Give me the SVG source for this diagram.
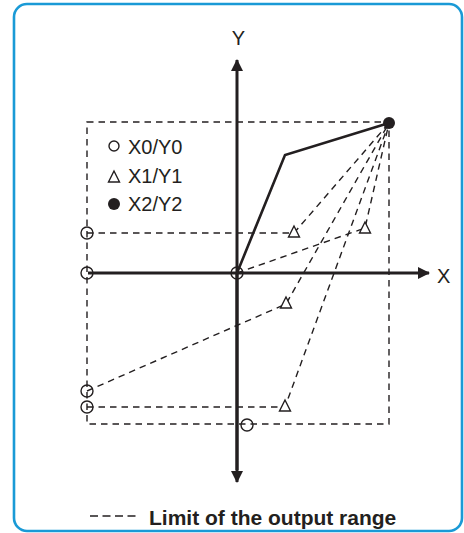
<svg xmlns="http://www.w3.org/2000/svg" width="464" height="533" viewBox="0 0 464 533">
<style>
.frame{fill:#fff;stroke:#1a9ad6;stroke-width:2.6}
.axis{stroke:#231f20;stroke-width:3;fill:none}
.curve{stroke:#231f20;stroke-width:2.6;fill:none;stroke-linejoin:miter}
.dash{stroke:#231f20;stroke-width:1.4;fill:none;stroke-dasharray:6.5,5}
.ldash{stroke:#231f20;stroke-width:1.4;fill:none;stroke-dasharray:8,4.5}
.c0{fill:none;stroke:#231f20;stroke-width:1.4}
.tri{fill:#fff;stroke:#231f20;stroke-width:1.4;stroke-linejoin:miter}
.lbl{font-family:"Liberation Sans",Arial,sans-serif;font-size:20px;fill:#231f20}
.bold{font-family:"Liberation Sans",Arial,sans-serif;font-size:21px;font-weight:bold;fill:#231f20}
</style>
<defs>
<marker id="arr" markerWidth="12" markerHeight="12" refX="11" refY="6" orient="auto" markerUnits="userSpaceOnUse">
<path d="M0,0 L12,6 L0,12 Z" fill="#231f20"/>
</marker>
<path id="tr" d="M0,-6 L5.5,5 L-5.5,5 Z"/>
</defs>
<rect class="frame" x="14" y="4" width="448" height="527" rx="13"/>
<g id="connectors">
<rect class="dash" x="87" y="122" width="302" height="302"/>
<path class="dash" d="M87,233 L294,233 L389,123"/>
<path class="dash" d="M237,273 L365,228 L389,123"/>
<path class="dash" d="M87,391 L286,304 L389,123"/>
<path class="dash" d="M87,407 L285,407 L389,123"/>
</g>
<g id="axes">
<line class="axis" x1="237" y1="470" x2="237" y2="60" marker-end="url(#arr)"/>
<line class="axis" x1="237" y1="273" x2="237" y2="482" marker-end="url(#arr)"/>
<line class="axis" x1="88" y1="273" x2="429" y2="273" marker-end="url(#arr)"/>
<text class="lbl" x="238.5" y="45" text-anchor="middle">Y</text>
<text class="lbl" x="437" y="283">X</text>
</g>
<g id="curve">
<polyline class="curve" points="237,273 285,155 389,123"/>
<circle cx="389" cy="123" r="6" fill="#231f20"/>
</g>
<g id="x0y0-points">
<circle class="c0" cx="87" cy="233" r="6"/>
<circle class="c0" cx="87" cy="273" r="6"/>
<circle class="c0" cx="237" cy="273" r="6"/>
<circle class="c0" cx="87" cy="391" r="6"/>
<circle class="c0" cx="87" cy="407" r="6"/>
<circle class="c0" cx="247" cy="425" r="6" fill="#fff"/>
</g>
<g id="x1y1-points">
<use href="#tr" class="tri" x="294" y="232"/>
<use href="#tr" class="tri" x="365" y="228"/>
<use href="#tr" class="tri" x="286" y="303"/>
<use href="#tr" class="tri" x="285" y="406"/>
</g>
<g id="legend">
<circle class="c0" cx="114" cy="146" r="5"/>
<text class="lbl" x="128" y="154">X0/Y0</text>
<use href="#tr" class="tri" x="114" y="177"/>
<text class="lbl" x="128" y="183">X1/Y1</text>
<circle cx="114" cy="204" r="6" fill="#231f20"/>
<text class="lbl" x="128" y="211">X2/Y2</text>
</g>
<g id="range-legend">
<line class="ldash" x1="90" y1="516" x2="136" y2="516"/>
<text class="bold" x="149" y="525">Limit of the output range</text>
</g>
</svg>
